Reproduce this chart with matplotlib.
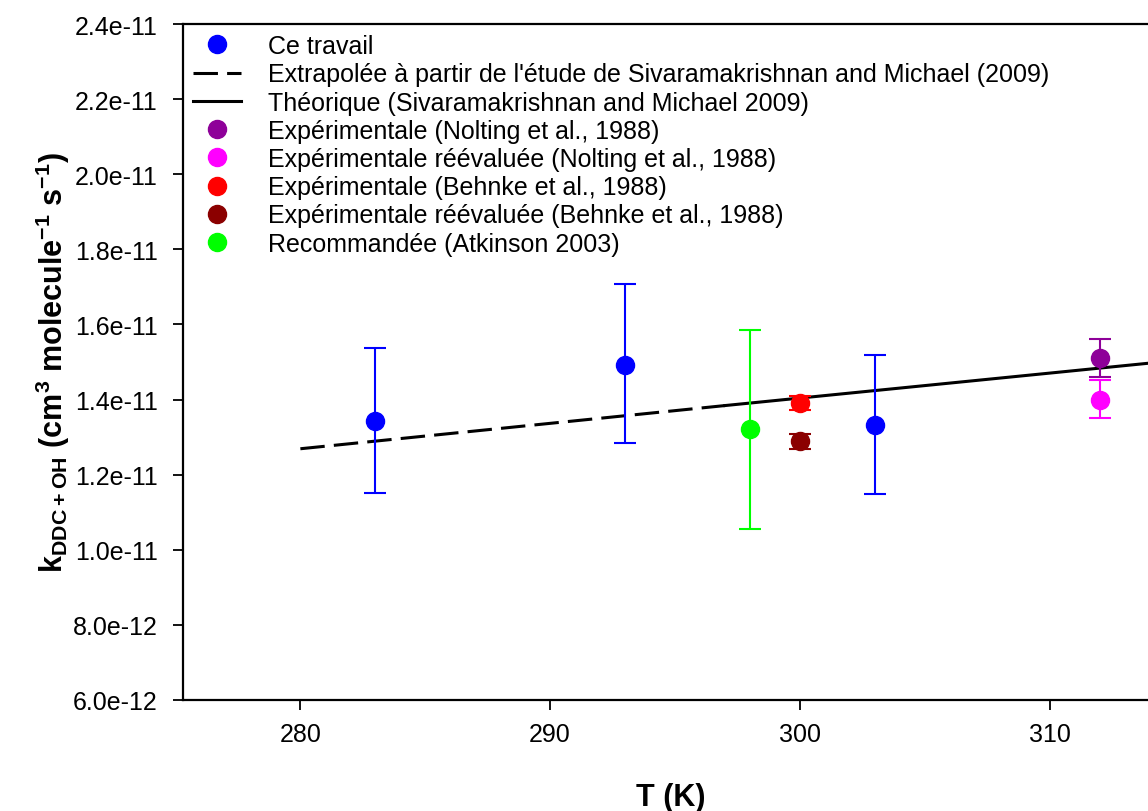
import numpy as np
import matplotlib
matplotlib.use("Agg")
import matplotlib.pyplot as plt
from matplotlib.lines import Line2D
from matplotlib.ticker import FuncFormatter

plt.rcParams['font.family'] = ['Liberation Sans', 'DejaVu Sans']
plt.rcParams['mathtext.fontset'] = 'custom'
plt.rcParams['mathtext.rm'] = 'Liberation Sans'
plt.rcParams['mathtext.bf'] = 'Liberation Sans:bold'

# Ce travail
T_work = [283, 293, 303]
k_work = [1.344e-11, 1.493e-11, 1.333e-11]
k_work_hi = [1.536e-11, 1.707e-11, 1.518e-11]
k_work_lo = [1.152e-11, 1.283e-11, 1.149e-11]

# Sivaramakrishnan and Michael (2009)
T_extrap = [280, 297]
k_extrap = [1.269e-11, 1.384e-11]
T_theo = [297, 314]
k_theo = [1.384e-11, 1.497e-11]

# literature points: T, k, k_hi, k_lo
T_nolting = [312]
k_nolting = [1.510e-11]
k_nolting_hi = [1.560e-11]
k_nolting_lo = [1.461e-11]

T_nolting_r = [312]
k_nolting_r = [1.400e-11]
k_nolting_r_hi = [1.451e-11]
k_nolting_r_lo = [1.352e-11]

T_behnke = [300]
k_behnke = [1.390e-11]
k_behnke_hi = [1.410e-11]
k_behnke_lo = [1.371e-11]

T_behnke_r = [300]
k_behnke_r = [1.290e-11]
k_behnke_r_hi = [1.309e-11]
k_behnke_r_lo = [1.269e-11]

T_atk = [298]
k_atk = [1.322e-11]
k_atk_hi = [1.584e-11]
k_atk_lo = [1.054e-11]

fig = plt.figure(figsize=(11.48, 8.12), dpi=100)
ax = fig.add_axes([183 / 1148, 1 - 701 / 812, 1 - 183 / 1148 + 0.01, (701 - 25) / 812])


def errpts(T, k, hi, lo, color):
    k = np.array(k)
    yerr = [k - np.array(lo), np.array(hi) - k]
    ax.errorbar(T, k, yerr=yerr, fmt='o', color=color, ms=13, elinewidth=1.5,
                capsize=8, capthick=1.5, zorder=3)


errpts(T_work, k_work, k_work_hi, k_work_lo, '#0000FF')
ax.plot(T_extrap, k_extrap, color='black', lw=2.2, dashes=(8, 3), zorder=2)
ax.plot(T_theo, k_theo, color='black', lw=2.2, zorder=2)
errpts(T_nolting, k_nolting, k_nolting_hi, k_nolting_lo, '#8E0099')
errpts(T_nolting_r, k_nolting_r, k_nolting_r_hi, k_nolting_r_lo, '#FF00FF')
errpts(T_behnke, k_behnke, k_behnke_hi, k_behnke_lo, '#FF0000')
errpts(T_behnke_r, k_behnke_r, k_behnke_r_hi, k_behnke_r_lo, '#8B0000')
errpts(T_atk, k_atk, k_atk_hi, k_atk_lo, '#00FF00')

ax.set_xlim(275.3, 314.4)
ax.set_ylim(6e-12, 2.4e-11)
ax.set_xticks([280, 290, 300, 310])
ax.set_yticks(np.arange(6e-12, 2.41e-11, 2e-12))
ax.yaxis.set_major_formatter(FuncFormatter(lambda v, p: f"{v:.1e}"))
ax.tick_params(direction='out', length=7, width=1.3, labelsize=18)
ax.tick_params(axis='x', pad=9)
ax.tick_params(axis='y', pad=11)
for s in ['left', 'bottom', 'top']:
    ax.spines[s].set_linewidth(1.6)
ax.spines['right'].set_visible(False)

ax.set_xlabel('T (K)', fontsize=22, fontweight='bold')
ax.set_ylabel(r'k$_\mathbf{DDC+OH}$ (cm$^\mathbf{3}$ molecule$^\mathbf{-1}$ s$^\mathbf{-1}$)',
              fontsize=22, fontweight='bold')
ax.xaxis.set_label_coords(0.5, -0.122)
ax.yaxis.set_label_coords(-0.114, 0.5)

handles = [
    Line2D([], [], marker='o', ls='none', color='#0000FF', ms=13),
    Line2D([], [], color='black', lw=2.2, dashes=(8, 3)),
    Line2D([], [], color='black', lw=2.2),
    Line2D([], [], marker='o', ls='none', color='#8E0099', ms=13),
    Line2D([], [], marker='o', ls='none', color='#FF00FF', ms=13),
    Line2D([], [], marker='o', ls='none', color='#FF0000', ms=13),
    Line2D([], [], marker='o', ls='none', color='#8B0000', ms=13),
    Line2D([], [], marker='o', ls='none', color='#00FF00', ms=13),
]
labels = [
    'Ce travail',
    "Extrapolée à partir de l'étude de Sivaramakrishnan and Michael (2009)",
    'Théorique (Sivaramakrishnan and Michael 2009)',
    'Expérimentale (Nolting et al., 1988)',
    'Expérimentale réévaluée (Nolting et al., 1988)',
    'Expérimentale (Behnke et al., 1988)',
    'Expérimentale réévaluée (Behnke et al., 1988)',
    'Recommandée (Atkinson 2003)',
]
ax.legend(handles, labels, loc='upper left', bbox_to_anchor=(0.0, 1.0), frameon=False,
          fontsize=18, handlelength=1.9, handletextpad=1.1, labelspacing=0.17,
          borderaxespad=0.0)

fig.savefig('out.png', dpi=100)
